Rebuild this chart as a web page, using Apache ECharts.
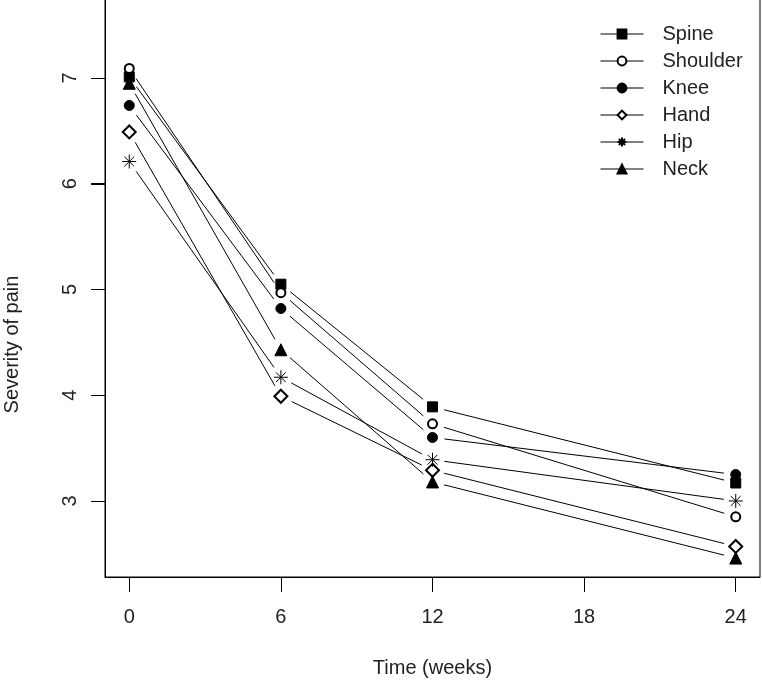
<!DOCTYPE html>
<html>
<head>
<meta charset="utf-8">
<script src="https://cdn.jsdelivr.net/npm/echarts@6/dist/echarts.min.js"></script>
<style>html,body{margin:0;padding:0;background:#fff;}#c{width:762px;height:689px;}</style>
</head>
<body>
<div id="c"></div>
<script>
var weeks = [0, 6, 12, 24];
var seriesNames = ['Spine', 'Shoulder', 'Knee', 'Hand', 'Hip', 'Neck'];
var spine    = [7.01, 5.05, 3.89, 3.17];
var shoulder = [7.09, 4.97, 3.73, 2.85];
var knee     = [6.74, 4.82, 3.60, 3.25];
var hand     = [6.49, 3.99, 3.29, 2.57];
var hip      = [6.21, 4.17, 3.39, 3.00];
var neck     = [6.95, 4.43, 3.18, 2.46];
var xTicks = [0, 6, 12, 18, 24];
var yTicks = [3, 4, 5, 6, 7];

var values = [spine, shoulder, knee, hand, hip, neck];
var asterisk = 'path://M0,5L10,5M5,0L5,10M1.5,1.5L8.5,8.5M8.5,1.5L1.5,8.5';
var symbols = ['rect', 'emptyCircle', 'circle', 'emptyDiamond', asterisk, 'triangle'];
var sizes = [10, 9, 10, 13, 14, 12];
var txt = '#222';
var X_MIN = -0.96, X_MAX = 24.96, Y_MIN = 2.281, Y_MAX = 7.747;

var series = [];
values.forEach(function (vals, i) {
  var segs = [];
  for (var k = 0; k < weeks.length - 1; k++) {
    segs.push([weeks[k], vals[k], weeks[k + 1], vals[k + 1]]);
  }
  series.push({
    type: 'custom',
    silent: true,
    data: segs,
    renderItem: function (params, api) {
      var p1 = api.coord([api.value(0), api.value(1)]);
      var p2 = api.coord([api.value(2), api.value(3)]);
      var dx = p2[0] - p1[0], dy = p2[1] - p1[1];
      var len = Math.sqrt(dx * dx + dy * dy);
      var g = 12;
      var ux = dx / len, uy = dy / len;
      return {
        type: 'line',
        shape: { x1: p1[0] + ux * g, y1: p1[1] + uy * g, x2: p2[0] - ux * g, y2: p2[1] - uy * g },
        style: { stroke: '#000', lineWidth: 1 }
      };
    }
  });
});
values.forEach(function (vals, i) {
  series.push({
    name: seriesNames[i],
    type: 'line',
    data: weeks.map(function (w, k) { return [w, vals[k]]; }),
    symbol: symbols[i],
    symbolSize: sizes[i],
    showAllSymbol: true,
    lineStyle: { opacity: 0, width: 0 },
    itemStyle: { color: '#000', borderColor: '#000', borderWidth: 1 },
    emphasis: { disabled: true },
    z: 3
  });
});
// y-axis tick marks, placed through the axis scale at the left edge of the plot box
series.push({
  type: 'custom',
  silent: true,
  clip: false,
  z: 50,
  data: yTicks.map(function (v) { return [X_MIN, v]; }),
  renderItem: function (params, api) {
    var p = api.coord([api.value(0), api.value(1)]);
    var y = Math.round(p[1]) + 0.5;
    return {
      type: 'line',
      shape: { x1: p[0] - 14, y1: y, x2: p[0], y2: y },
      style: { stroke: '#000', lineWidth: 1 }
    };
  }
});

var chart = echarts.init(document.getElementById('c'), null, { renderer: 'canvas' });
chart.setOption({
  animation: false,
  backgroundColor: '#fff',
  grid: { left: 105, right: 2, top: -1, bottom: 112, show: true, borderColor: '#000', borderWidth: 1, outerBoundsMode: 'none' },
  legend: {
    data: seriesNames,
    orient: 'vertical',
    left: 600,
    top: 24,
    padding: 0,
    itemWidth: 43,
    itemHeight: 11,
    itemGap: 7,
    lineStyle: { color: '#000', width: 1, opacity: 1 },
    textStyle: { fontFamily: 'Liberation Sans, Arial', fontSize: 20, color: txt, lineHeight: 20, padding: [0, 0, 0, 14] },
    selectedMode: false
  },
  graphic: [{
    type: 'text',
    left: 2,
    top: 'middle',
    silent: true,
    rotation: Math.PI / 2,
    style: { text: 'Severity of pain', fontFamily: 'Liberation Sans, Arial', fontSize: 20, fill: txt }
  }],
  xAxis: {
    type: 'value',
    min: X_MIN,
    max: X_MAX,
    name: 'Time (weeks)',
    nameLocation: 'middle',
    nameGap: 81,
    nameTextStyle: { fontFamily: 'Liberation Sans, Arial', fontSize: 20, color: txt },
    axisLine: { show: true, onZero: false, lineStyle: { color: '#000', width: 1 } },
    splitLine: { show: false },
    axisTick: { show: true, customValues: xTicks, length: 15, lineStyle: { color: '#000', width: 1 } },
    axisLabel: { customValues: xTicks, margin: 30, fontFamily: 'Liberation Sans, Arial', fontSize: 20, color: txt }
  },
  yAxis: {
    type: 'value',
    min: Y_MIN,
    max: Y_MAX,
    axisLine: { show: true, onZero: false, lineStyle: { color: '#000', width: 1 } },
    splitLine: { show: false },
    axisTick: { show: true, customValues: yTicks, length: 14, lineStyle: { color: '#000', width: 1 } },
    axisLabel: { customValues: yTicks, rotate: 90, margin: 25, fontFamily: 'Liberation Sans, Arial', fontSize: 20, color: txt }
  },
  series: series
});
</script>
</body>
</html>
